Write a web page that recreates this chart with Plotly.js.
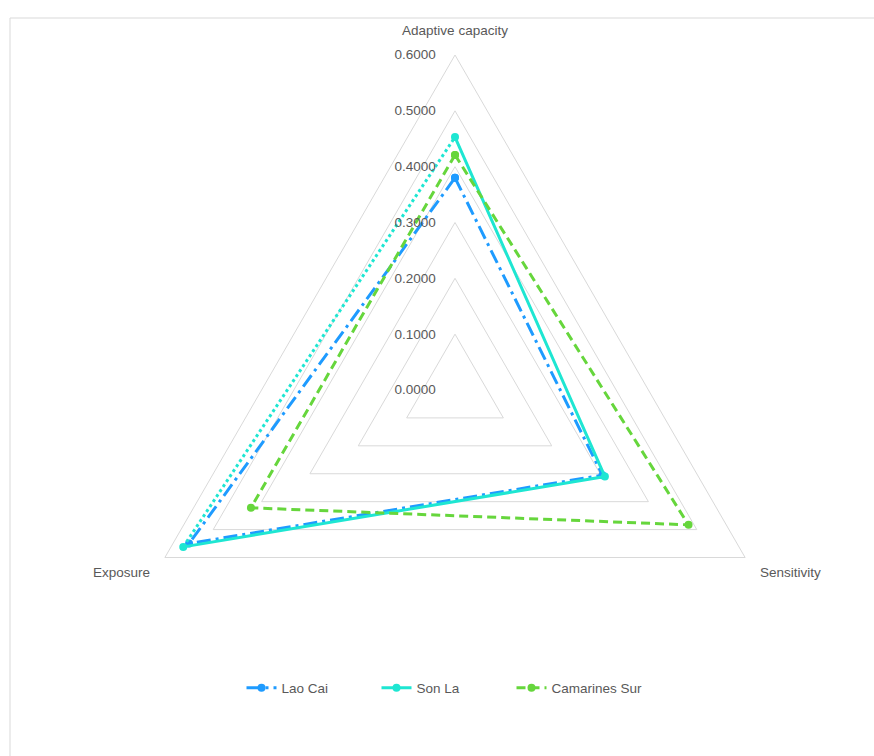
<!DOCTYPE html>
<html>
<head>
<meta charset="utf-8">
<script src="https://cdn.plot.ly/plotly-3.0.1.min.js"></script>
<style>
html,body{margin:0;padding:0;background:#fff;}
#chart{width:874px;height:756px;}
</style>
</head>
<body>
<div id="chart"></div>
<script>
var categories = ["Adaptive capacity", "Sensitivity", "Exposure"];
var laoCai = [0.380, 0.305, 0.550];
var sonLa = [0.453, 0.310, 0.562];
var camarinesSur = [0.421, 0.483, 0.422];
var radialTicks = [0, 0.1, 0.2, 0.3, 0.4, 0.5, 0.6];

var blue = "#1E9BFF", cyan = "#1EE6D2", green = "#66D63C";

function closed(arr){ return arr.concat([arr[0]]); }

var traces = [
  {type:"scatterpolar", name:"Lao Cai", r: closed(laoCai), theta: closed(categories),
   mode:"lines+markers", line:{color:blue, width:3, dash:"14px,5px,3px,5px"},
   marker:{color:blue, size:8, symbol:"circle"}, cliponaxis:false},
  {type:"scatterpolar", name:"Son La", r: sonLa, theta: categories,
   mode:"lines+markers", line:{color:cyan, width:3},
   marker:{color:cyan, size:8, symbol:"circle"}, cliponaxis:false},
  {type:"scatterpolar", name:"Son La", showlegend:false, r:[sonLa[2], sonLa[0]],
   theta:[categories[2], categories[0]], mode:"lines",
   line:{color:cyan, width:3, dash:"dot"}, hoverinfo:"skip"},
  {type:"scatterpolar", name:"Camarines Sur", r: closed(camarinesSur), theta: closed(categories),
   mode:"lines+markers", line:{color:green, width:3, dash:"9px,5px"},
   marker:{color:green, size:8, symbol:"circle"}, cliponaxis:false}
];

var R = 335, cx = 455, cy = 390, W = 874, H = 756;
var fs = 13.5;
var layout = {
  width:W, height:H,
  margin:{l:0,r:0,t:0,b:0},
  paper_bgcolor:"#fff",
  font:{family:"Liberation Sans, Arial, sans-serif", color:"#595959", size:fs},
  showlegend:true,
  legend:{orientation:"h", x:444/W, xanchor:"center", y:1-688/H, yanchor:"middle",
    font:{size:fs, color:"#595959"}, entrywidth:90, entrywidthmode:"pixels"},
  polar:{
    domain:{x:[(cx-R)/W,(cx+R)/W], y:[1-(cy+R)/H, 1-(cy-R)/H]},
    bgcolor:"rgba(0,0,0,0)",
    gridshape:"linear",
    angularaxis:{rotation:90, direction:"clockwise", showgrid:false,
      linecolor:"#d9d9d9", linewidth:1, ticks:"outside", ticklen:14,
      tickcolor:"rgba(0,0,0,0)", showline:true,
      tickfont:{size:fs, color:"#595959"}},
    radialaxis:{range:[0,0.6], tickvals:radialTicks, tickformat:".4f",
      angle:90, tickangle:90, side:"counterclockwise", showline:false,
      ticks:"outside", ticklen:14, tickcolor:"rgba(0,0,0,0)",
      gridcolor:"#d9d9d9", gridwidth:1, tickfont:{size:fs, color:"#595959"}}
  },
  shapes:[
    {type:"rect", xref:"paper", yref:"paper", x0:10/W, y0:-0.02, x1:1.02, y1:1-18/H,
     line:{color:"#d9d9d9", width:1}, fillcolor:"rgba(0,0,0,0)", layer:"below"}
  ]
};

Plotly.newPlot("chart", traces, layout, {displayModeBar:false, staticPlot:true});
</script>
</body>
</html>
